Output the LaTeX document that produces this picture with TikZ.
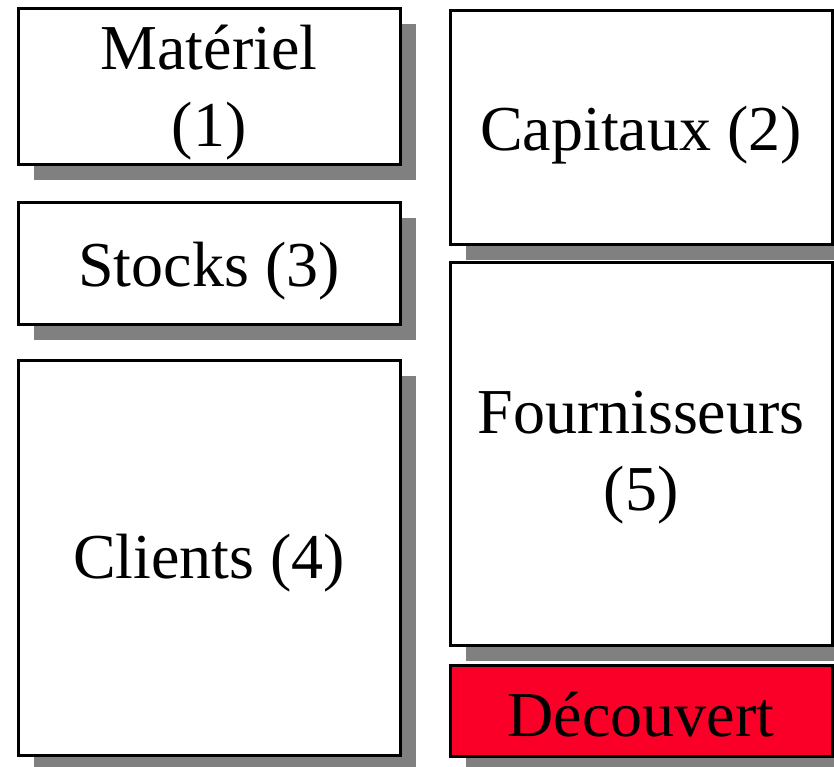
\documentclass[tikz,border=0pt]{standalone}
\usepackage{fontspec}
\setmainfont{Liberation Serif}
\usetikzlibrary{shadows}
\definecolor{shadowgray}{RGB}{128,128,128}
\definecolor{alertred}{RGB}{250,0,40}
\begin{document}
\begin{tikzpicture}[x=1pt,y=-1pt,
  box/.style={draw=black, line width=3pt, fill=white, rectangle,
    inner sep=0pt, outer sep=0pt, minimum width=382pt,
    drop shadow={shadow xshift=16pt, shadow yshift=-16pt, fill=shadowgray, opacity=1}},
  boxtext/.style={inner sep=0pt, align=center,
    font=\fontsize{64}{77}\selectfont}]
\useasboundingbox (0,0) rectangle (834,766);
\clip (0,0) rectangle (834,766);
\node[box, minimum height=156pt] (mat) at (209,86) {};
\node[box, minimum height=122pt] (sto) at (209,263) {};
\node[box, minimum height=395pt] (cli) at (209,557.5) {};
\node[box, minimum height=234pt] (cap) at (641,127) {};
\node[box, minimum height=383pt] (fou) at (641,453.5) {};
\node[box, minimum height=91pt, fill=alertred] (dec) at (641,710.5) {};
\node[boxtext] (matt) at ([yshift=-7pt]mat.center) {Matériel\\(1)};
\node[boxtext] (stot) at ([yshift=-8pt]sto.center) {Stocks (3)};
\node[boxtext] (clit) at ([yshift=-6pt]cli.center) {Clients (4)};
\node[boxtext] (capt) at ([yshift=-8pt]cap.center) {Capitaux (2)};
\node[boxtext] (fout) at ([yshift=-4pt]fou.center) {Fournisseurs\\(5)};
\node[boxtext] (dect) at ([yshift=-4pt]dec.center) {Découvert};
\end{tikzpicture}
\end{document}
